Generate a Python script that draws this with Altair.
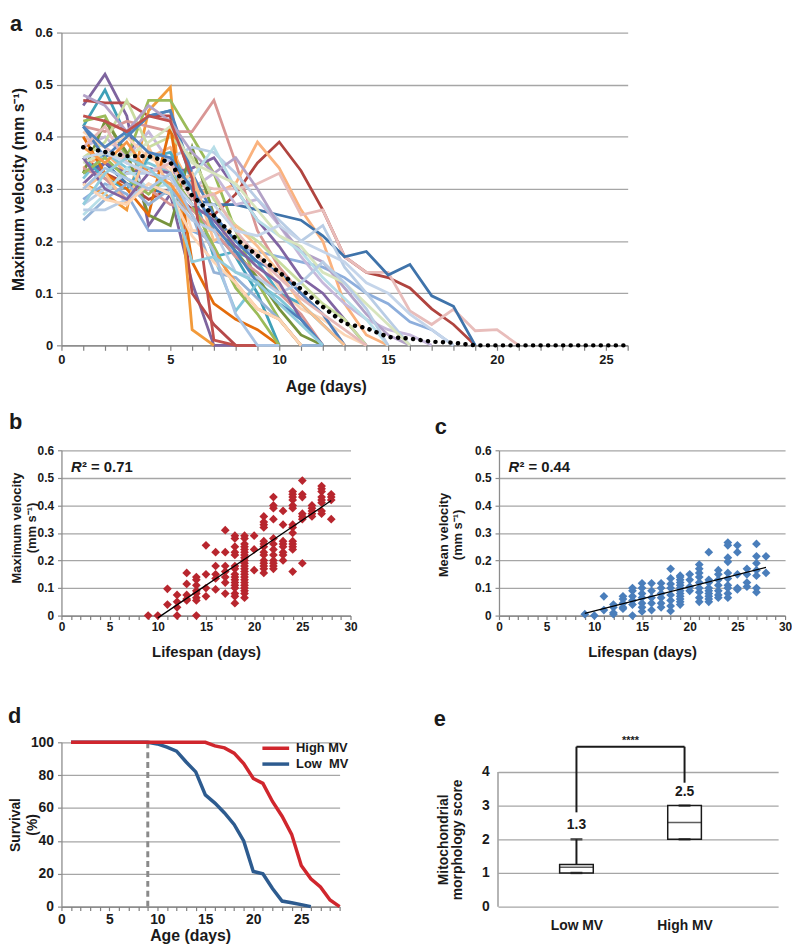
import altair as alt
import pandas as pd

FONT = "Liberation Sans"
INK = "#1a1a1a"
GRID = "#a6a6a6"
AXISC = "#8c8c8c"

# ---------------- panel a : individual trajectories + mean ----------------
mean_days = list(range(1, 27))
mean_velocity = [0.38, 0.371, 0.363, 0.363, 0.351, 0.287, 0.249, 0.205, 0.172, 0.14,
                 0.108, 0.074, 0.042, 0.033, 0.016, 0.013, 0.007, 0.005, 0.0, 0.0,
                 0.0, 0.0, 0.0, 0.0, 0.0, 0.0]

worm_colors = ["#7E649E", "#3FA0B8", "#B6494A", "#F29A3A", "#9BBB59", "#D99694",
               "#B0443F", "#FAB27E", "#E8BDBB", "#3F73AA", "#8DAEDC", "#C6B8DA",
               "#7FC6D8", "#8064A2", "#77933C", "#C9DCA0", "#B9CDE5", "#FCD5B5",
               "#4BACC6", "#E46C0A", "#4F81BD", "#D99694", "#B3A2C7", "#B7DEE8",
               "#D7E4BD", "#FAC090", "#E6B9B8", "#95B3D7", "#9BBB59", "#F79646",
               "#B9CDE5", "#8064A2", "#4F81BD", "#C5D5EA", "#FCD5B5", "#C0504D",
               "#A9C4E4", "#93CDDD"]
worm_values = [
    [0.46, 0.52, 0.44, 0.23, 0.29, 0.12, 0.0, 0.0],
    [0.42, 0.49, 0.40, 0.44, 0.45, 0.31, 0.22, 0.17, 0.10, 0.0],
    [0.47, 0.465, 0.465, 0.44, 0.44, 0.10, 0.04, 0.0, 0.0],
    [0.31, 0.29, 0.26, 0.45, 0.495, 0.03, 0.0],
    [0.43, 0.44, 0.36, 0.47, 0.47, 0.40, 0.33, 0.22, 0.12, 0.05, 0.0],
    [0.42, 0.41, 0.43, 0.42, 0.41, 0.41, 0.47, 0.35, 0.22, 0.15, 0.10, 0.06, 0.0],
    [0.36, 0.33, 0.31, 0.28, 0.30, 0.26, 0.25, 0.29, 0.35, 0.39, 0.335, 0.26, 0.17, 0.14, 0.13, 0.11, 0.07, 0.04, 0.0],
    [0.34, 0.37, 0.33, 0.36, 0.38, 0.30, 0.29, 0.31, 0.39, 0.34, 0.26, 0.20, 0.08, 0.02, 0.0],
    [0.40, 0.38, 0.35, 0.37, 0.33, 0.31, 0.30, 0.30, 0.31, 0.33, 0.25, 0.26, 0.17, 0.14, 0.14, 0.066, 0.04, 0.069, 0.028, 0.03, 0.0],
    [0.33, 0.35, 0.31, 0.30, 0.29, 0.28, 0.27, 0.27, 0.26, 0.25, 0.24, 0.21, 0.17, 0.18, 0.135, 0.155, 0.095, 0.075, 0.0],
    [0.28, 0.31, 0.29, 0.22, 0.22, 0.22, 0.20, 0.19, 0.18, 0.17, 0.16, 0.15, 0.13, 0.10, 0.08, 0.045, 0.03, 0.0],
    [0.38, 0.40, 0.36, 0.41, 0.35, 0.30, 0.33, 0.27, 0.28, 0.23, 0.17, 0.12, 0.08, 0.05, 0.03, 0.02, 0.0],
    [0.32, 0.37, 0.34, 0.35, 0.33, 0.30, 0.17, 0.066, 0.12, 0.09, 0.05, 0.0],
    [0.31, 0.35, 0.33, 0.34, 0.33, 0.34, 0.36, 0.30, 0.24, 0.19, 0.13, 0.10, 0.05, 0.0],
    [0.33, 0.43, 0.37, 0.25, 0.23, 0.38, 0.25, 0.18, 0.13, 0.07, 0.02, 0.0],
    [0.36, 0.39, 0.47, 0.38, 0.40, 0.36, 0.28, 0.23, 0.20, 0.16, 0.12, 0.08, 0.05, 0.0],
    [0.27, 0.30, 0.33, 0.33, 0.36, 0.38, 0.37, 0.33, 0.28, 0.24, 0.20, 0.23, 0.15, 0.10, 0.05, 0.0],
    [0.41, 0.38, 0.40, 0.36, 0.34, 0.22, 0.22, 0.20, 0.18, 0.11, 0.07, 0.05, 0.02, 0.0],
    [0.36, 0.32, 0.30, 0.36, 0.37, 0.30, 0.17, 0.18, 0.16, 0.10, 0.08, 0.04, 0.0],
    [0.40, 0.33, 0.30, 0.25, 0.42, 0.16, 0.08, 0.05, 0.03, 0.0],
    [0.42, 0.36, 0.40, 0.44, 0.45, 0.33, 0.25, 0.20, 0.16, 0.14, 0.10, 0.06, 0.0],
    [0.34, 0.32, 0.28, 0.30, 0.27, 0.26, 0.22, 0.17, 0.14, 0.10, 0.06, 0.0],
    [0.48, 0.46, 0.41, 0.46, 0.43, 0.37, 0.33, 0.36, 0.30, 0.23, 0.18, 0.16, 0.11, 0.06, 0.02, 0.0],
    [0.25, 0.29, 0.34, 0.30, 0.31, 0.32, 0.38, 0.30, 0.24, 0.21, 0.18, 0.13, 0.09, 0.05, 0.0],
    [0.35, 0.37, 0.36, 0.39, 0.42, 0.35, 0.33, 0.31, 0.26, 0.21, 0.19, 0.14, 0.12, 0.08, 0.04, 0.0],
    [0.30, 0.33, 0.27, 0.38, 0.30, 0.33, 0.20, 0.23, 0.19, 0.14, 0.08, 0.04, 0.0],
    [0.38, 0.42, 0.35, 0.33, 0.35, 0.28, 0.29, 0.22, 0.17, 0.13, 0.09, 0.06, 0.03, 0.0],
    [0.24, 0.28, 0.31, 0.27, 0.30, 0.25, 0.14, 0.13, 0.09, 0.05, 0.0, 0.0],
    [0.33, 0.36, 0.32, 0.29, 0.33, 0.27, 0.19, 0.11, 0.06, 0.0],
    [0.38, 0.35, 0.39, 0.33, 0.31, 0.25, 0.18, 0.12, 0.07, 0.05, 0.0],
    [0.26, 0.26, 0.28, 0.31, 0.29, 0.24, 0.22, 0.14, 0.13, 0.10, 0.12, 0.16, 0.12, 0.07, 0.0],
    [0.36, 0.30, 0.28, 0.33, 0.32, 0.27, 0.24, 0.19, 0.15, 0.12, 0.05, 0.0],
    [0.42, 0.38, 0.41, 0.37, 0.36, 0.30, 0.23, 0.18, 0.12, 0.08, 0.05, 0.0],
    [0.36, 0.37, 0.35, 0.33, 0.32, 0.27, 0.27, 0.22, 0.21, 0.23, 0.20, 0.18, 0.16, 0.12, 0.10, 0.06, 0.03, 0.0],
    [0.31, 0.28, 0.27, 0.31, 0.29, 0.21, 0.16, 0.12, 0.07, 0.05, 0.0],
    [0.44, 0.43, 0.41, 0.44, 0.43, 0.32, 0.01, 0.0, 0.0],
    [0.30, 0.34, 0.32, 0.30, 0.33, 0.25, 0.18, 0.06, 0.0, 0.0],
    [0.27, 0.33, 0.36, 0.34, 0.30, 0.16, 0.17, 0.14, 0.12, 0.08, 0.04, 0.0],
]
worm_names = [f"worm {i + 1}" for i in range(len(worm_values))]

# ---------------- panels b, c : velocity vs lifespan ----------------
b_points = {
    9: [0.0], 10: [0.0], 11: [0.097, 0.04], 12: [0.075, 0.05, 0.03, 0.0],
    13: [0.155, 0.115, 0.075, 0.06, 0.055],
    14: [0.14, 0.13, 0.11, 0.09, 0.08, 0.065, 0.055, 0.0],
    15: [0.255, 0.15, 0.1, 0.07], 16: [0.23, 0.18, 0.15, 0.135, 0.095],
    17: [0.31, 0.23, 0.18, 0.16, 0.14, 0.12, 0.08],
    18: [0.29, 0.28, 0.25, 0.23, 0.22, 0.18, 0.17, 0.15, 0.14, 0.13, 0.12, 0.11, 0.1, 0.08, 0.07, 0.045],
    19: [0.29, 0.28, 0.26, 0.25, 0.24, 0.23, 0.22, 0.21, 0.2, 0.19, 0.18, 0.17, 0.16, 0.15, 0.14,
         0.13, 0.12, 0.11, 0.1, 0.09, 0.08, 0.065],
    20: [0.29, 0.24, 0.165],
    21: [0.36, 0.34, 0.33, 0.32, 0.27, 0.26, 0.25, 0.23, 0.22, 0.2, 0.19, 0.18, 0.17, 0.155],
    22: [0.43, 0.4, 0.39, 0.35, 0.28, 0.26, 0.24, 0.22, 0.2, 0.19, 0.18, 0.17],
    23: [0.38, 0.33, 0.27, 0.26, 0.25, 0.23, 0.22, 0.2],
    24: [0.45, 0.44, 0.43, 0.42, 0.4, 0.39, 0.33, 0.32, 0.3, 0.27, 0.26, 0.25, 0.24, 0.16],
    25: [0.49, 0.44, 0.43, 0.37, 0.36, 0.35, 0.19],
    26: [0.4, 0.39, 0.38, 0.37, 0.36],
    27: [0.47, 0.46, 0.45, 0.43, 0.42, 0.41, 0.38, 0.37],
    28: [0.44, 0.43, 0.42, 0.35],
}
c_points = {
    9: [0.005], 10: [0.0], 11: [0.07, 0.02], 12: [0.04, 0.03, 0.01, 0.005],
    13: [0.07, 0.06, 0.045, 0.03, 0.025], 14: [0.1, 0.09, 0.07, 0.055, 0.04, 0.0],
    15: [0.117, 0.1, 0.08, 0.065, 0.045, 0.03, 0.015], 16: [0.117, 0.09, 0.065, 0.045, 0.02],
    17: [0.117, 0.1, 0.08, 0.065, 0.045, 0.03],
    18: [0.17, 0.135, 0.115, 0.1, 0.075, 0.055, 0.035, 0.017],
    19: [0.145, 0.14, 0.13, 0.12, 0.11, 0.1, 0.09, 0.08, 0.07, 0.06, 0.05, 0.04],
    20: [0.15, 0.13, 0.105, 0.09],
    21: [0.185, 0.17, 0.155, 0.14, 0.12, 0.1, 0.085, 0.065, 0.05],
    22: [0.23, 0.13, 0.12, 0.1, 0.09, 0.08, 0.07, 0.06, 0.05],
    23: [0.165, 0.15, 0.13, 0.11, 0.09, 0.075, 0.065],
    24: [0.265, 0.255, 0.21, 0.195, 0.155, 0.135, 0.11, 0.1, 0.08, 0.065],
    25: [0.255, 0.23, 0.15, 0.1, 0.095], 26: [0.17, 0.15, 0.12, 0.105],
    27: [0.26, 0.215, 0.19, 0.165, 0.145, 0.1, 0.085], 28: [0.215, 0.155],
}
r2_labels = ["0.71", "0.44"]
r2_pos = [1, 0.54]
fit_extent_b = [10, 28]
fit_extent_c = [9, 28]

# ---------------- panel d : survival ----------------
groups_d = ["High MV", "Low MV"]
colors_d = ["#D0262D", "#2D5B8F"]
days_high = list(range(1, 30))
surv_high = [100] * 15 + [97.8, 96.6, 93.4, 87, 78, 75, 64, 55, 44, 25, 17, 12, 4, 0]
days_low = list(range(1, 27))
surv_low = [100] * 9 + [99, 97, 94.6, 88, 82, 68, 63, 57, 50, 40, 21.4, 20, 11, 3.4, 2.4, 1.2, 0]
cutoff_day = 9

# ---------------- panel e : mitochondrial score ----------------
groups_e = ["Low MV", "High MV"]
e_min = [1, 2]
e_q1 = [1, 2]
e_median = [1.17, 2.5]
e_q3 = [1.25, 3]
e_max = [2, 3]
e_mean = ["1.3", "2.5"]
bracket_top = 4.75
bracket_feet = [2.8, 3.68]
stars = "****"

# ======================================================================
def title_letter(t, dx, offset):
    return alt.TitleParams(t, anchor="start", frame="group", dx=dx, offset=offset,
                           fontSize=22, fontWeight="bold", font=FONT, color=INK,
                           baseline="alphabetic")

def day_axis(n, title, fs, tfs, tx, ty, tick=5, pad=3):
    return alt.Axis(values=list(range(0, n + 1)),
                    labelExpr="datum.value % 5 === 0 ? datum.label : ''",
                    grid=False, tickSize=tick, labelPadding=pad, labelFontSize=fs,
                    labelFlush=False, labelOverlap=False, title=title, titleFontSize=tfs,
                    titleX=tx, titleY=ty, titleAlign="center", titleBaseline="alphabetic",
                    domainColor="#7f7f7f", tickColor="#7f7f7f")

# ---- a
df_a = pd.DataFrame([{"worm": n, "day": d, "v": v}
                     for n, vals in zip(worm_names, worm_values)
                     for d, v in enumerate(vals, start=1)])
df_mean = pd.DataFrame({"day": mean_days, "v": mean_velocity})

xa = alt.X("day:Q", scale=alt.Scale(domain=[0, 26], nice=False, zero=False),
           axis=day_axis(26, "Age (days)", 13, 16, 267, 47))
ya = alt.Y("v:Q", scale=alt.Scale(domain=[0, 0.6], nice=False),
           axis=alt.Axis(values=[0, 0.1, 0.2, 0.3, 0.4, 0.5, 0.6], format=".1~f", tickSize=5,
                         labelPadding=4, labelFontSize=13, title="Maximum velocity (mm s⁻¹)",
                         titleFontSize=16, titleAngle=270, titleX=-43, titleY=158,
                         titleAlign="center", titleBaseline="middle"))
lines_a = alt.Chart(df_a).mark_line(strokeWidth=2.8).encode(
    x=xa, y=ya,
    color=alt.Color("worm:N", scale=alt.Scale(domain=worm_names, range=worm_colors), legend=None))
mean_a = alt.Chart(df_mean).mark_line(color="black", strokeWidth=4.5, strokeDash=[0.1, 7.5],
                                      strokeCap="round").encode(x=xa, y=ya)
panel_a = alt.layer(lines_a, mean_a).properties(width=572, height=316,
                                                 title=title_letter("a", -52, -26))

# ---- b / c
def scatter_panel(points, color, ytitle, letter, ldx, loff, tx, ty, r2, extent, width):
    df = pd.DataFrame([{"life": k, "v": v} for k, vals in points.items() for v in vals])
    xs = alt.Scale(domain=[0, 30], nice=False, zero=False)
    ys = alt.Scale(domain=[0, 0.6], nice=False)
    xax = day_axis(30, "Lifespan (days)", 12, 15, width / 2, 41, tick=4, pad=2)
    yax = alt.Axis(values=[0, 0.1, 0.2, 0.3, 0.4, 0.5, 0.6], format=".1~f", tickSize=4,
                   labelPadding=4, labelFontSize=12, title=ytitle, titleFontSize=13,
                   titleLineHeight=15, titleAngle=270, titleX=tx, titleY=ty,
                   titleAlign="center", titleBaseline="middle")
    pts = alt.Chart(df).mark_point(shape="diamond", filled=True, size=78, opacity=1,
                                   color=color).encode(
        x=alt.X("life:Q", scale=xs, axis=xax), y=alt.Y("v:Q", scale=ys, axis=yax))
    fit = alt.Chart(df).transform_regression("life", "v", extent=extent).mark_line(
        color="black", strokeWidth=1.3).encode(
        x=alt.X("life:Q", scale=xs, axis=xax), y=alt.Y("v:Q", scale=ys, axis=yax))
    dft = pd.DataFrame({"life": [r2_pos[0]], "v": [r2_pos[1]], "r": ["R"],
                        "rest": ["² = " + r2]})
    t1 = alt.Chart(dft).mark_text(align="left", baseline="middle", fontSize=15,
                                  fontWeight="bold", fontStyle="italic", color=INK).encode(
        x=alt.X("life:Q", scale=xs, axis=xax), y=alt.Y("v:Q", scale=ys, axis=yax), text="r:N")
    t2 = alt.Chart(dft).mark_text(align="left", baseline="middle", fontSize=15, dx=11,
                                  fontWeight="bold", color=INK).encode(
        x=alt.X("life:Q", scale=xs, axis=xax), y=alt.Y("v:Q", scale=ys, axis=yax), text="rest:N")
    return alt.layer(pts, fit, t1, t2).properties(
        width=width, height=167, title=title_letter(letter, ldx, loff))

panel_b = scatter_panel(b_points, "#B8262E", ["Maximum velocity", "(mm s⁻¹)"], "b", -53, -7,
                        -45.5, 78, r2_labels[0], fit_extent_b, 292)
panel_c = scatter_panel(c_points, "#4A7EBB", ["Mean velocity", "(mm s⁻¹)"], "c", -65, -12,
                        -56.5, 85, r2_labels[1], fit_extent_c, 289)

# ---- d
df_high = pd.DataFrame({"day": days_high, "s": surv_high, "group": groups_d[0]})
df_low = pd.DataFrame({"day": days_low, "s": surv_low, "group": groups_d[1]})
xd = alt.X("day:Q", scale=alt.Scale(domain=[0, 29], nice=False, zero=False),
           axis=day_axis(29, "Age (days)", 14, 16, 130, 34, tick=4, pad=2))
yd_axis = alt.Axis(values=[0, 20, 40, 60, 80, 100], tickSize=4, labelPadding=4, labelFontSize=14,
                   title=["Survival", "(%)"], titleFontSize=14, titleLineHeight=17,
                   titleAngle=270, titleX=-46.5, titleY=83, titleAlign="center",
                   titleBaseline="middle")
yd_scale = alt.Scale(domain=[0, 100], nice=False)
color_d = alt.Color("group:N", scale=alt.Scale(domain=groups_d, range=colors_d),
                    legend=alt.Legend(orient="none", legendX=209.5, legendY=-1, title=None,
                                      symbolType="M-2.7,0H2.7", symbolStrokeWidth=3.5,
                                      symbolSize=100, labelFontSize=13, labelFont=FONT,
                                      labelFontWeight="bold", labelColor=INK, labelOffset=13.5,
                                      rowPadding=2,
                                      labelExpr="datum.label == 'Low MV' ? 'Low\u00a0 MV' : datum.label"))
spacer = alt.Chart(pd.DataFrame({"t": ["."]})).mark_text(opacity=0, baseline="top",
                                                           fontSize=10).encode(
    text="t:N", x=alt.value(0), y=alt.value(-67))
cut = alt.Chart(pd.DataFrame({"day": [cutoff_day], "lo": [0], "hi": [100]})).mark_rule(
    color="#8a8a8a", strokeWidth=3, strokeDash=[6, 4]).encode(
    x=xd, y=alt.Y("lo:Q", scale=yd_scale, axis=yd_axis), y2="hi:Q")
low_line = alt.Chart(df_low).mark_line(strokeWidth=3.5).encode(
    x=xd, y=alt.Y("s:Q", scale=yd_scale, axis=yd_axis), color=color_d)
high_line = alt.Chart(df_high).mark_line(strokeWidth=3.5).encode(
    x=xd, y=alt.Y("s:Q", scale=yd_scale, axis=yd_axis), color=color_d)
panel_d = alt.layer(spacer, cut, low_line, high_line).properties(
    width=281, height=166, title=title_letter("d", -54, -70))

# ---- e
df_e = pd.DataFrame({"pos": [0, 1], "group": groups_e, "min": e_min, "q1": e_q1,
                     "median": e_median, "q3": e_q3, "max": e_max, "mean": e_mean})
xe_scale = alt.Scale(domain=[-0.68, 1.82], nice=False, zero=False)
label_expr_e = "datum.value == 0 ? '%s' : '%s'" % (groups_e[0], groups_e[1])
xe_axis = alt.Axis(values=[0, 1], labelExpr=label_expr_e, ticks=False, domain=False, grid=False,
                   labelFontSize=14, labelPadding=12, title=None, labelFlush=False)
ye_scale = alt.Scale(domain=[0, 4.88], nice=False)
ye_axis = alt.Axis(values=[0, 1, 2, 3, 4], ticks=False, domain=False, labelPadding=9,
                   labelFontSize=14, title=["Mitochondrial", "morphology score"],
                   titleFontSize=14, titleLineHeight=15, titleAngle=270, titleX=-55.5, titleY=98,
                   titleAlign="center", titleBaseline="middle")

def xe(f="pos:Q"):
    return alt.X(f, scale=xe_scale, axis=xe_axis)

def ye(f):
    return alt.Y(f, scale=ye_scale, axis=ye_axis)

e_axisline = alt.Chart(pd.DataFrame({"a": [0], "b": [4]})).mark_rule(
    color=AXISC, strokeWidth=1.3).encode(x=alt.value(0), y=ye("a:Q"), y2="b:Q")
e_whisk_hi = alt.Chart(df_e).mark_rule(color=INK, strokeWidth=2).encode(x=xe(), y=ye("q3:Q"), y2="max:Q")
e_whisk_lo = alt.Chart(df_e).mark_rule(color=INK, strokeWidth=2).encode(x=xe(), y=ye("min:Q"), y2="q1:Q")
e_box = alt.Chart(df_e).mark_bar(size=34, fill="white", stroke=INK, strokeWidth=1.5).encode(
    x=xe(), y=ye("q1:Q"), y2="q3:Q")
e_med = alt.Chart(df_e).mark_tick(orient="horizontal", size=34, thickness=1.5, color=INK).encode(
    x=xe(), y=ye("median:Q"))
e_cap_hi = alt.Chart(df_e).mark_tick(orient="horizontal", size=12, thickness=2.5, color=INK).encode(
    x=xe(), y=ye("max:Q"))
e_cap_lo = alt.Chart(df_e).mark_tick(orient="horizontal", size=12, thickness=2.5, color=INK).encode(
    x=xe(), y=ye("min:Q"))
e_mean_txt = alt.Chart(df_e).mark_text(baseline="bottom", dy=-7, fontSize=14, fontWeight="bold",
                                       color=INK).encode(x=xe(), y=ye("max:Q"), text="mean:N")
df_br = pd.DataFrame({"x": [0, 0, 1], "x2": [0, 1, 1],
                      "y": [bracket_feet[0], bracket_top, bracket_feet[1]],
                      "y2": [bracket_top, bracket_top, bracket_top]})
e_bracket = alt.Chart(df_br).mark_rule(color=INK, strokeWidth=2).encode(
    x=xe("x:Q"), x2="x2:Q", y=ye("y:Q"), y2="y2:Q")
e_stars = alt.Chart(pd.DataFrame({"x": [0.5], "y": [bracket_top], "t": [stars]})).mark_text(
    baseline="bottom", dy=-1, fontSize=11, fontWeight="bold", color=INK).encode(
    x=xe("x:Q"), y=ye("y:Q"), text="t:N")
panel_e = alt.layer(e_axisline, e_whisk_hi, e_whisk_lo, e_box, e_med, e_cap_hi, e_cap_lo,
                    e_mean_txt, e_bracket, e_stars).properties(
    width=283, height=166, title=title_letter("e", -65, -13))

row_bc = alt.hconcat(panel_b, panel_c, spacing=150, bounds="flush").resolve_scale(color="independent")
row_de = alt.hconcat(panel_d, panel_e, spacing=160, bounds="flush").resolve_scale(color="independent")

chart = alt.vconcat(panel_a, row_bc, row_de, spacing=17, padding=0, background="white").resolve_scale(
    color="independent").configure_view(
    stroke=None).configure_axis(
    labelFont=FONT, titleFont=FONT, labelFontWeight="bold", titleFontWeight="bold",
    labelColor=INK, titleColor=INK, gridColor=GRID, gridWidth=1.3, domainColor=AXISC,
    tickColor=AXISC, domainWidth=1.3, tickWidth=1.2).configure_text(font=FONT)

chart.save("out.html", embed_options={"renderer": "svg", "actions": False})
